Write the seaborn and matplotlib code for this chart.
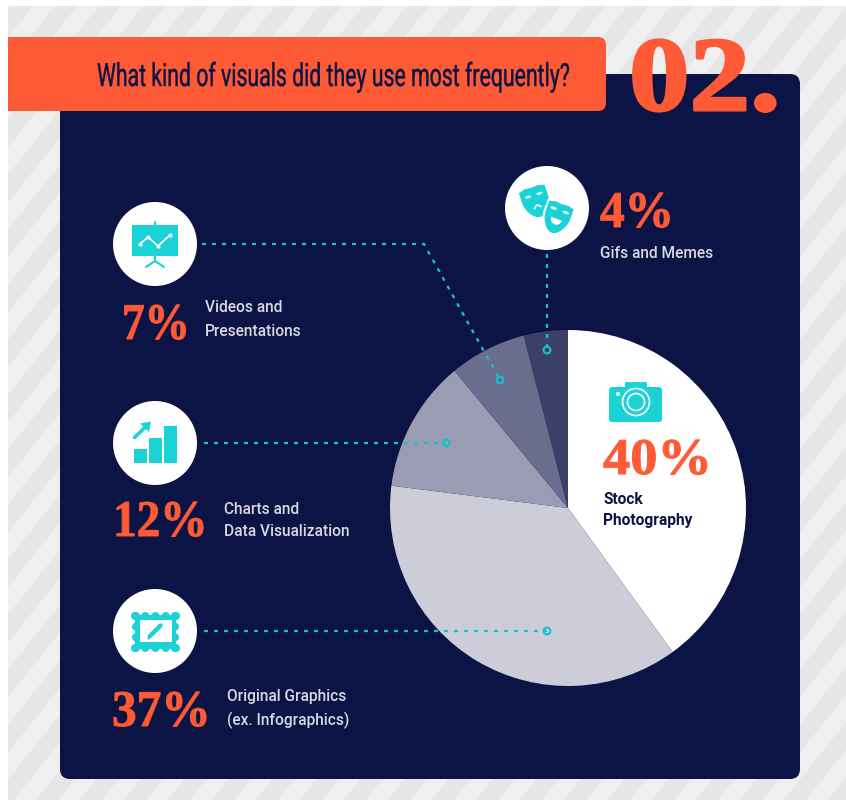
import matplotlib
matplotlib.use("Agg")
import matplotlib.pyplot as plt
import matplotlib.patheffects as pe
from matplotlib.patches import Circle, FancyBboxPatch, Polygon, Rectangle, Ellipse
from matplotlib.transforms import Affine2D
import numpy as np
import seaborn as sns

categories = ["Stock Photography", "Original Graphics", "Charts and Data Visualization",
              "Videos and Presentations", "Gifs and Memes"]
shares = [40, 37, 12, 7, 4]
wedge_colors = ["#ffffff", "#cccdd9", "#9a9cb3", "#6b6d8e", "#3a4068"]
title = "What kind of visuals did they use most frequently?"
section = "02."

NAVY = "#0c1445"
ORANGE = "#ff5a36"
TEAL = "#1bd3d6"
LINE = "#14c4c8"
LABEL = "#d8d9e0"
SANS = ["Roboto", "DejaVu Sans"]
SERIF = ["Liberation Serif", "DejaVu Serif"]

sns.set_theme(style="white")
W, H = 846, 801
fig = plt.figure(figsize=(W / 100, H / 100), dpi=100, facecolor="white")


class Reshape(pe.AbstractPathEffect):
    """Stretches glyphs about an anchor point, with an optional outline to fatten them."""

    def __init__(self, x0, y0, sx=1.0, sy=1.0, stroke=0.0):
        super().__init__()
        self.warp = Affine2D().translate(-x0, -(H - y0)).scale(sx, sy).translate(x0, H - y0)
        self.stroke = stroke

    def draw_path(self, renderer, gc, tpath, affine, rgbFace):
        gc2 = renderer.new_gc()
        gc2.copy_properties(gc)
        if self.stroke:
            gc2.set_linewidth(self.stroke)
            gc2.set_foreground(rgbFace)
        else:
            gc2.set_linewidth(0)
        renderer.draw_path(gc2, tpath, affine + self.warp, rgbFace)
        gc2.restore()


def pixel_axes(z):
    a = fig.add_axes([0, 0, 1, 1], zorder=z)
    a.set_xlim(0, W)
    a.set_ylim(H, 0)
    a.axis("off")
    a.patch.set_alpha(0)
    return a


back = pixel_axes(0)
front = pixel_axes(2)

# Diagonal striped backdrop, clipped to its frame
frame = Rectangle((8, 6), W - 8, 794, fc="#efefef", ec="none")
back.add_patch(frame)
run = 794 / 1.25
for x0 in np.arange(11, 1540, 44.0):
    stripe = Polygon([(x0, 6), (x0 + 22, 6), (x0 + 22 - run, 800), (x0 - run, 800)], fc="#e6e6e6", ec="none")
    back.add_patch(stripe)
    stripe.set_clip_path(frame)

# Navy panel and orange header tab
back.add_patch(FancyBboxPatch((70, 84), 720, 685, boxstyle="round,pad=10,rounding_size=10", fc=NAVY, ec="none"))
back.add_patch(FancyBboxPatch((-20, 45), 618, 58, boxstyle="round,pad=8,rounding_size=8", fc=ORANGE, ec="none"))
back.add_patch(Rectangle((0, 0), 8, H, fc="white", ec="none"))

# Pie chart, clockwise from twelve o'clock
cx, cy, r = 568, 508, 178
pie_ax = fig.add_axes([(cx - r) / W, 1 - (cy + r) / H, 2 * r / W, 2 * r / H], zorder=1)
pie_ax.pie(shares, colors=sns.color_palette(wedge_colors), startangle=90, counterclock=False,
           radius=1, wedgeprops=dict(linewidth=0))
pie_ax.set_xlim(-1, 1)
pie_ax.set_ylim(-1, 1)
pie_ax.patch.set_alpha(0)

# Dotted leaders from the icons into the wedges
leaders = [
    ([202, 424, 500], [244, 244, 380]),
    ([204, 446], [443, 443]),
    ([204, 547], [631, 631]),
    ([547, 547], [254, 350]),
]
for xs, ys in leaders:
    front.plot(xs, ys, color=LINE, lw=1.6, dashes=(1.8, 2.7), dash_capstyle="butt")
    front.add_patch(Circle((xs[-1], ys[-1]), 3.4, fc="none", ec=LINE, lw=1.5, zorder=5))

# White discs behind the icons
for c in [(155, 244), (155, 443), (155, 631), (547, 208)]:
    front.add_patch(Circle(c, 42, fc="white", ec="none"))

# Presentation board
front.add_patch(Rectangle((132, 225), 46, 31, fc=TEAL, ec="none"))
front.plot([155, 155], [222, 225], color=TEAL, lw=1.5)
front.plot([155, 155, 146], [256, 261, 267], color=TEAL, lw=1.5)
front.plot([155, 164], [261, 267], color=TEAL, lw=1.5)
front.plot([140, 148, 158, 170], [244, 237, 246, 235], color="white", lw=1.2, marker="o", ms=2)

# Rising bars and arrow
for x, y in [(134, 449), (149, 438), (164, 426)]:
    front.add_patch(Rectangle((x, y), 13, 463 - y, fc=TEAL, ec="none"))
front.plot([134.5, 146], [437.5, 426.5], color=TEAL, lw=2.6, solid_capstyle="round")
front.add_patch(Polygon([(151, 421.5), (140, 423.5), (149, 432)], fc=TEAL, ec="none"))

# Scalloped picture frame with a pencil
front.add_patch(Rectangle((135, 615), 41, 34, fc=TEAL, ec="none"))
for x in np.linspace(135, 176, 5):
    front.add_patch(Circle((x, 616), 4, fc=TEAL, ec="none"))
    front.add_patch(Circle((x, 648), 4, fc=TEAL, ec="none"))
for y in np.linspace(616, 648, 4):
    front.add_patch(Circle((136, y), 4, fc=TEAL, ec="none"))
    front.add_patch(Circle((175, y), 4, fc=TEAL, ec="none"))
front.add_patch(Rectangle((140, 620), 32, 22, fc="white", ec="none"))
front.plot([150, 160.5], [636, 625.5], color=TEAL, lw=3.2, solid_capstyle="round")
front.plot([148.5, 149.5], [638.5, 637.5], color=TEAL, lw=1.6)


def rotate(pts, center, angle):
    a = np.radians(angle)
    m = np.array([[np.cos(a), -np.sin(a)], [np.sin(a), np.cos(a)]])
    return np.asarray(pts) @ m.T + np.asarray(center)


def mask_outline(center, angle, w, h):
    # Theatre mask outline in local coordinates, rotated about its centre
    t = np.linspace(0, np.pi, 24)
    lower = np.c_[w / 2 * np.cos(t) * (1 - 0.15 * np.sin(t)), h * 0.05 + h * 0.55 * np.sin(t)]
    upper = np.array([[-w / 2, -h * 0.34], [-w / 4, -h * 0.40], [0, -h * 0.38], [w / 4, -h * 0.40], [w / 2, -h * 0.34]])
    return rotate(np.vstack([lower, upper]), center, angle)


# Theatre masks
back_c, front_c = (535, 199), (558, 215)
front.add_patch(Polygon(mask_outline(back_c, -18, 27, 31), fc=TEAL, ec="none"))
for ex in (-6, 6):
    p = rotate([[ex, -4]], back_c, -18)[0]
    front.add_patch(Ellipse(p, 6, 2.6, angle=-18, fc="white", ec="none"))
front.plot(*rotate([[-3.5, 9], [0, 6], [3.5, 9]], back_c, -18).T, color="white", lw=1.2)
front.add_patch(Polygon(mask_outline(front_c, 20, 28, 33), fc=TEAL, ec="white", lw=1.5, joinstyle="round"))
for ex in (-6.5, 6.5):
    p = rotate([[ex, -5]], front_c, 20)[0]
    front.add_patch(Ellipse(p, 6.5, 2.8, angle=20, fc="white", ec="none"))
t = np.linspace(0.15, np.pi - 0.15, 12)
front.add_patch(Polygon(rotate(np.c_[6 * np.cos(t), 3 + 7 * np.sin(t)], front_c, 20), fc="white", ec="none"))

# Camera
front.add_patch(FancyBboxPatch((611, 389), 49, 31, boxstyle="round,pad=2,rounding_size=3", fc=TEAL, ec="none"))
front.add_patch(FancyBboxPatch((626, 383), 20, 5, boxstyle="round,pad=1,rounding_size=1.5", fc=TEAL, ec="none"))
front.add_patch(Circle((636, 402), 13.5, fc="none", ec="white", lw=1.2))
front.add_patch(Circle((636, 402), 8.5, fc="none", ec="white", lw=1.2))
front.add_patch(Circle((618, 394), 2, fc="white", ec="none"))

# Header text: a tall, condensed line and the large section number
front.text(97, 86, title, family=SANS, fontsize=15.3, color=NAVY, va="baseline", ha="left",
           path_effects=[Reshape(97, 86, sy=1.5, stroke=0.3)])
front.text(629, 110, section, family=SERIF, fontweight="bold", fontsize=80, color=ORANGE, va="baseline",
           path_effects=[Reshape(629, 110, sx=1.09, sy=0.95, stroke=2.2)])

# Percentages
percent_pos = [(603, 474), (112, 726), (113, 536), (122, 339), (600, 227)]
percent_stretch = [1.06, 0.96, 0.92, 0.88, 0.96]
for share, (x, y), sx in zip(shares, percent_pos, percent_stretch):
    front.text(x, y, f"{share}%", family=SERIF, fontweight="bold", fontsize=37, color=ORANGE, va="baseline",
               path_effects=[Reshape(x, y, sx=sx, stroke=0.7)])

# Category captions
captions = [
    (603, 499, "Stock", NAVY, "bold"),
    (603, 520, "Photography", NAVY, "bold"),
    (227, 697, "Original Graphics", LABEL, "medium"),
    (227, 720, "(ex. Infographics)", LABEL, "medium"),
    (224, 509, "Charts and", LABEL, "medium"),
    (224, 532, "Data Visualization", LABEL, "medium"),
    (205, 308, "Videos and", LABEL, "medium"),
    (205, 331, "Presentations", LABEL, "medium"),
    (600, 254, "Gifs and Memes", LABEL, "medium"),
]
for x, y, s, col, wt in captions:
    front.text(x, y, s, family=SANS, fontsize=11.2, color=col, fontweight=wt, va="center", ha="left")

fig.savefig("out.png", dpi=100, facecolor="white")
